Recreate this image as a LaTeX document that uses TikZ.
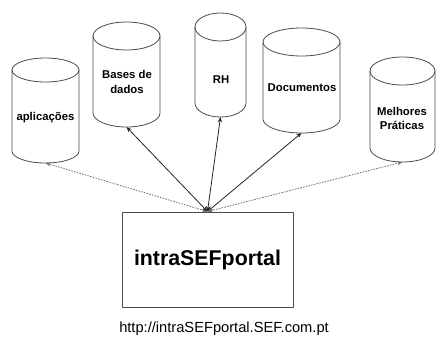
\documentclass[tikz,border=0pt]{standalone}
\usepackage{fontspec}
\setmainfont{Liberation Sans}
\usetikzlibrary{arrows.meta}

% database cylinder: name, centre x, top y, bottom y, x radius, y radius
\newcommand\dbcyl[6]{%
  \draw[cylline] (#2-#5,-#3-#6) -- (#2-#5,-#4+#6)
    arc[start angle=180,end angle=360,x radius=#5,y radius=#6]
    -- (#2+#5,-#3-#6);
  \draw[cylline] (#2,-#3-#6) ellipse[x radius=#5,y radius=#6];
  \coordinate (#1) at (#2,-#4);
}

\begin{document}
\begin{tikzpicture}[x=0.75pt,y=0.75pt,
  cylline/.style={draw=black!70,line width=0.6pt},
  dblabel/.style={font=\fontsize{8.5}{10}\selectfont\bfseries,align=center,inner sep=0pt},
  link/.style={line width=0.6pt,{Stealth[length=4pt,width=3.2pt]}-{Stealth[length=4pt,width=3.2pt]}},
  solidlink/.style={link,draw=black!85},
  dotlink/.style={link,draw=black!55,dash pattern=on 1.2pt off 0.9pt},
  portalbox/.style={draw=black!70,line width=0.7pt,minimum width=128.25pt,minimum height=71.25pt,
    font=\fontsize{16}{19}\selectfont\bfseries}]

\useasboundingbox (0,0) rectangle (438,-342);
\fill[white] (0,0) rectangle (438,-342);

% databases
\dbcyl{apl}{45.5}{58}{163}{33.5}{12}
\dbcyl{bd}{126.5}{22}{127}{33.5}{14}
\dbcyl{rh}{220.5}{13}{117}{25.5}{14}
\dbcyl{doc}{301.5}{28}{133}{38.5}{14}
\dbcyl{mp}{402.5}{57}{162}{32.5}{14}

\node[dblabel] (aplT) at (45.5,-118) {aplicações};
\node[dblabel] (bdT) at (127,-82) {Bases de\\[1pt]dados};
\node[dblabel] (rhT) at (221,-80) {RH};
\node[dblabel] (docT) at (302,-88) {Documentos};
\node[dblabel] (mpT) at (402,-118.5) {Melhores\\[1pt]Práticas};

% portal
\node[portalbox] (portal) at (207.5,-259.5) {intraSEFportal};
\node[font=\fontsize{11}{13}\selectfont,inner sep=0pt] (url) at (224,-329) {http://intraSEFportal.SEF.com.pt};

% links
\draw[dotlink] (portal.north) -- (apl);
\draw[solidlink] (portal.north) -- (bd);
\draw[solidlink] (portal.north) -- (rh);
\draw[solidlink] (portal.north) -- (doc);
\draw[dotlink] (portal.north) -- (mp);

\end{tikzpicture}
\end{document}
